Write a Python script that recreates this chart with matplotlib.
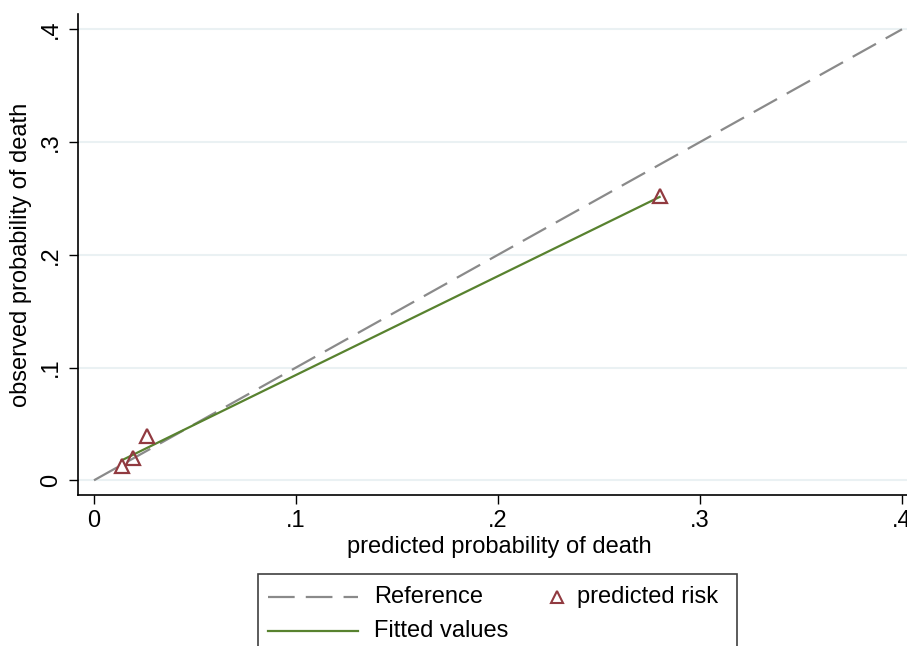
import matplotlib
matplotlib.use("Agg")
import matplotlib.pyplot as plt
from matplotlib.lines import Line2D
from matplotlib.patches import Rectangle
import numpy as np

# calibration data
pred_risk = [0.0137, 0.0195, 0.0261, 0.2800]
obs_risk = [0.0127, 0.0200, 0.0390, 0.2525]
fitted = [0.0177, 0.0228, 0.0286, 0.2513]
ref_x = [0.0, 0.4]
ref_y = [0.0, 0.4]
ticks = [0.0, 0.1, 0.2, 0.3, 0.4]
tick_labels = ["0", ".1", ".2", ".3", ".4"]

c_ref = "#8a8a8a"
c_fit = "#58822f"
c_pt = "#913a40"
c_grid = "#eaf1f3"

plt.rcParams["font.family"] = ["Liberation Sans", "DejaVu Sans"]
FS = 17

W, H = 907, 646
fig = plt.figure(figsize=(W / 100, H / 100), dpi=100)


def fx(px):
    return px / W


def fy(py):
    return 1 - py / H


# axes box in pixels (right edge runs off the cropped picture)
left, right, top, bottom = 78.3, 920.0, 14.0, 495.3
ax = fig.add_axes([fx(left), fy(bottom), fx(right) - fx(left), fy(top) - fy(bottom)])

ax.set_xlim((left - 94.0) / 2020.0, (right - 94.0) / 2020.0)
ax.set_ylim((480.3 - bottom) / 1127.5, (480.3 - top) / 1127.5)

for y in ticks:
    ax.axhline(y, color=c_grid, lw=1.5, zorder=0)

ax.plot(ref_x, ref_y, color=c_ref, lw=1.6, dashes=(12, 5), zorder=2)
ax.plot(pred_risk, fitted, color=c_fit, lw=1.6, zorder=3)
ax.plot(pred_risk, obs_risk, ls="none", marker="^", ms=10, mfc="none",
        mec=c_pt, mew=1.6, zorder=4)

ax.set_xticks(ticks)
ax.set_xticklabels(tick_labels, fontsize=FS)
ax.set_yticks(ticks)
ax.set_yticklabels(tick_labels, fontsize=FS, rotation=90, va="center")
ax.tick_params(direction="out", length=6.5, width=1, color="black")
ax.tick_params(axis="x", pad=4)
ax.tick_params(axis="y", pad=5)

ax.spines["top"].set_visible(False)
ax.spines["right"].set_visible(False)
for s in ("left", "bottom"):
    ax.spines[s].set_linewidth(1.2)

ax.set_xlabel("predicted probability of death", fontsize=FS, labelpad=3)
ax.set_ylabel("observed probability of death", fontsize=FS, labelpad=6)

# legend box, drawn by hand (bottom is cut off in the picture)
fig.add_artist(Rectangle((fx(258), fy(700)), fx(737) - fx(258), fy(574) - fy(700),
                         transform=fig.transFigure, fill=False,
                         edgecolor="#404040", lw=1.2))

row1, row2 = 597, 631
fig.add_artist(Line2D([fx(268), fx(358)], [fy(row1), fy(row1)], color=c_ref,
                      lw=1.6, dashes=(12, 5), transform=fig.transFigure))
fig.text(fx(374), fy(row1), "Reference", fontsize=FS, va="center")
fig.add_artist(Line2D([fx(268), fx(358)], [fy(row2), fy(row2)], color=c_fit,
                      lw=1.6, transform=fig.transFigure))
fig.text(fx(374), fy(row2), "Fitted values", fontsize=FS, va="center")
fig.add_artist(Line2D([fx(557)], [fy(row1)], ls="none", marker="^", ms=8,
                      mfc="none", mec=c_pt, mew=1.5, transform=fig.transFigure))
fig.text(fx(577), fy(row1), "predicted risk", fontsize=FS, va="center")

fig.savefig("out.png", dpi=100)
